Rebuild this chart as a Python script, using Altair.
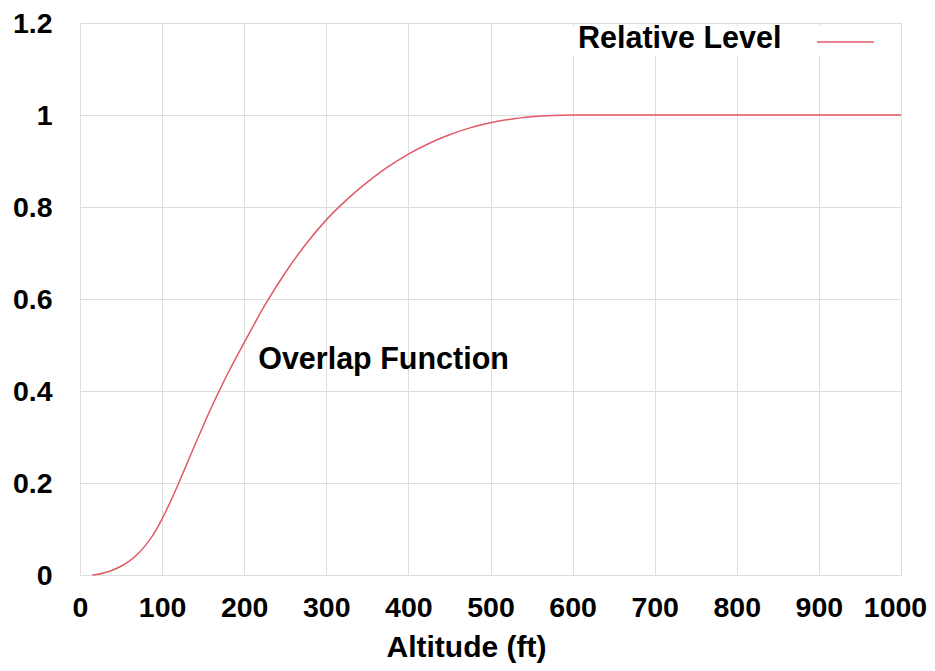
import altair as alt
import pandas as pd

altitude = [15, 20, 30, 40, 50, 60, 70, 80, 90, 100, 110, 120, 130, 140, 150, 160, 170, 180, 190, 200,
            225, 250, 275, 300, 325, 350, 375, 400, 425, 450, 475, 500, 525, 550, 575, 600,
            650, 700, 800, 900, 1000]
level = [0.0, 0.001, 0.005, 0.011, 0.019, 0.030, 0.045, 0.065, 0.090, 0.122, 0.159, 0.199, 0.241, 0.283,
         0.324, 0.364, 0.402, 0.438, 0.472, 0.505,
         0.586, 0.657, 0.719, 0.772, 0.816, 0.854, 0.887, 0.915, 0.938, 0.957, 0.972, 0.983, 0.991,
         0.996, 0.999, 1.0, 1.0, 1.0, 1.0, 1.0, 1.0]

x_ticks = [0, 100, 200, 300, 400, 500, 600, 700, 800, 900, 1000]
y_ticks = [0, 0.2, 0.4, 0.6, 0.8, 1.0, 1.2]

series_name = "Relative Level"
annotation = "Overlap Function"
annot_x = [217]
annot_y = [0.448]

FONT = "Liberation Sans"
RED = "#e05a66"

df = pd.DataFrame({"Altitude": altitude, "Level": level})

x_enc = alt.X("Altitude:Q",
              scale=alt.Scale(domain=[0, 1000], nice=False, zero=False),
              axis=alt.Axis(values=x_ticks, format="d", title="Altitude (ft)",
                            ticks=False, labelPadding=18, labelFontSize=28.5, labelFont=FONT,
                            labelFontWeight="bold", labelColor="#000",
                            labelOffset={"condition": {"test": "datum.value == 1000", "value": -6},
                                         "value": 0},
                            titleFontSize=30, titleFont=FONT, titleFontWeight="bold",
                            titleColor="#000", titleAlign="center", titleBaseline="alphabetic",
                            titleX=386, titleY=81,
                            grid=True, gridColor="#dedede", gridWidth=1,
                            domain=False, labelFlush=False))
y_enc = alt.Y("Level:Q",
              scale=alt.Scale(domain=[0, 1.2], nice=False, zero=False),
              axis=alt.Axis(values=y_ticks, format=".1~f", title=None,
                            ticks=False, labelPadding=28, labelFontSize=28.5, labelFont=FONT,
                            labelFontWeight="bold", labelColor="#000",
                            grid=True, gridColor="#dedede", gridWidth=1,
                            domain=False, labelFlush=False))

line = alt.Chart(df).mark_line(color=RED, strokeWidth=1.5, interpolate="monotone").encode(
    x=x_enc, y=y_enc)

annot_df = pd.DataFrame({"Altitude": annot_x, "Level": annot_y, "txt": [annotation]})
annot = alt.Chart(annot_df).mark_text(
    align="left", baseline="alphabetic", font=FONT, fontSize=30.5, fontWeight="bold", color="#000"
).encode(x="Altitude:Q", y="Level:Q", text="txt:N")

leg_df = pd.DataFrame({"name": [series_name]})
leg_bg = alt.Chart(leg_df).mark_rect(color="white").encode(
    x=alt.value(490), x2=alt.value(805), y=alt.value(3), y2=alt.value(33))
leg_text = alt.Chart(leg_df).mark_text(
    align="left", baseline="alphabetic", font=FONT, fontSize=30.5, fontWeight="bold", color="#000"
).encode(x=alt.value(498), y=alt.value(25), text="name:N")
leg_line = alt.Chart(leg_df).mark_rule(color=RED, strokeWidth=1.5).encode(
    x=alt.value(737), x2=alt.value(794), y=alt.value(19))

chart = alt.layer(leg_bg, line, annot, leg_text, leg_line).properties(
    width=821, height=552,
    autosize=alt.AutoSizeParams(type="none"),
    padding={"left": 72, "top": 15, "right": 26, "bottom": 88},
).configure_view(
    stroke="#8c8c8c", strokeWidth=1.6
).configure(background="white")

chart.save("out.html", embed_options={"renderer": "svg", "actions": False})
